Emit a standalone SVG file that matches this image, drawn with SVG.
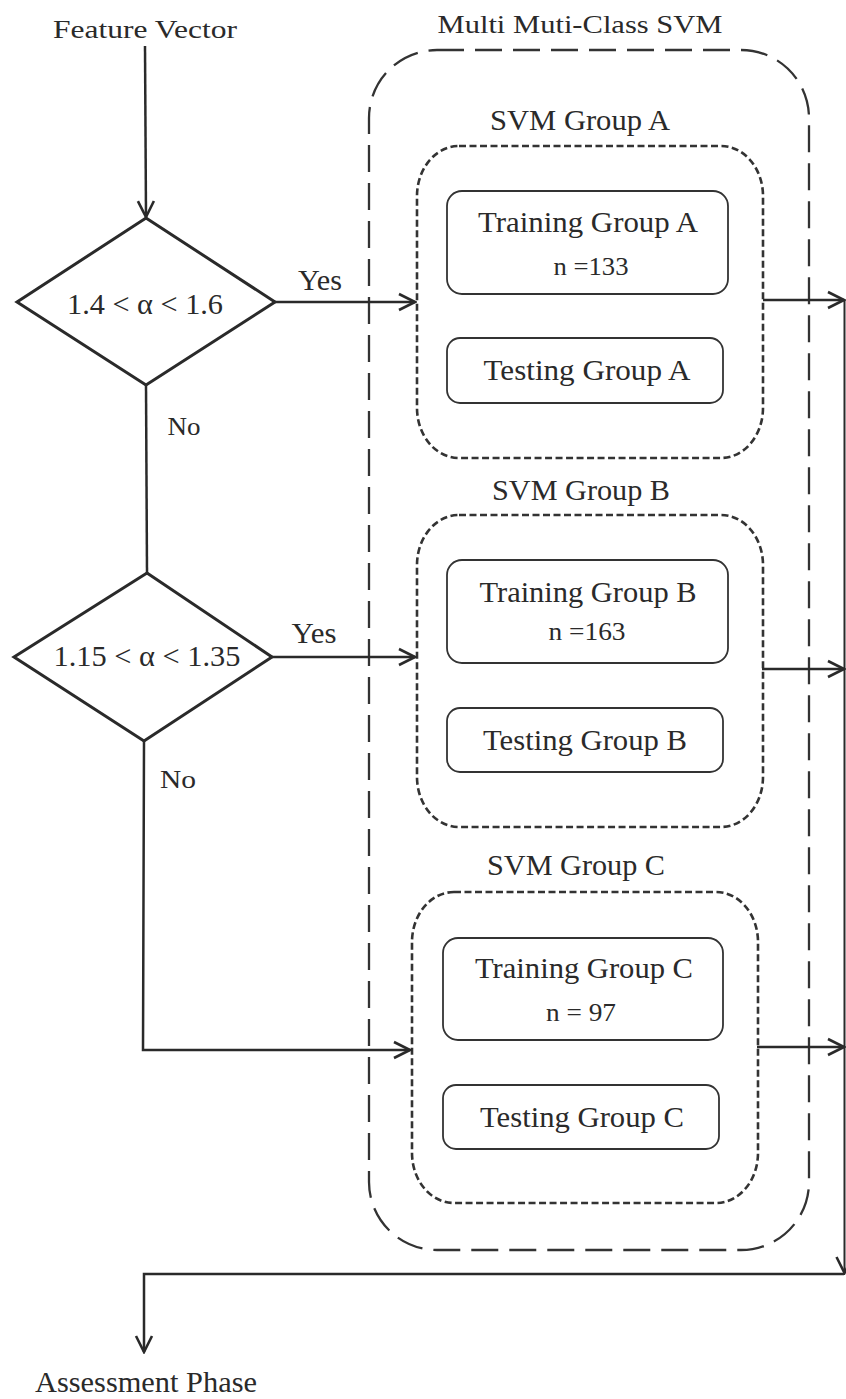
<svg xmlns="http://www.w3.org/2000/svg" width="846" height="1399" viewBox="0 0 846 1399">
<style>
text{font-family:"Liberation Serif","Times New Roman",serif;fill:#2a2a2a;text-anchor:middle}
.t27{font-size:29px}
.t25{font-size:26px}
.line{fill:none;stroke:#2a2a2a;stroke-width:2.5}
.dia{fill:none;stroke:#2a2a2a;stroke-width:3}
.box{fill:none;stroke:#333;stroke-width:1.8}
.grp{fill:none;stroke:#333;stroke-width:2.6;stroke-dasharray:7 3.5}
.outer{fill:none;stroke:#333;stroke-width:2.3;stroke-dasharray:27 11}
</style>
<defs>
<marker id="arr" viewBox="0 0 20 20" refX="18" refY="10" markerWidth="20" markerHeight="20" markerUnits="userSpaceOnUse" orient="auto">
<path d="M2,2 L18,10 L2,18" fill="none" stroke="#2a2a2a" stroke-width="2.6"/>
</marker>
</defs>
<rect width="846" height="1399" fill="#fff"/>

<g id="outer-svm">
<rect class="outer" x="369" y="50" width="440" height="1200" rx="68" ry="68"/>
<text class="t25" x="580" y="33" textLength="285" lengthAdjust="spacingAndGlyphs">Multi Muti-Class SVM</text>
</g>

<g id="feature-vector">
<text class="t25" x="145" y="38" textLength="184" lengthAdjust="spacingAndGlyphs">Feature Vector</text>
</g>

<g id="decision-1">
<polygon class="dia" points="146,218 275,302 146,385 17,302"/>
<text class="t27" x="145" y="314" textLength="156" lengthAdjust="spacingAndGlyphs">1.4 &lt; α &lt; 1.6</text>
</g>

<g id="decision-2">
<polygon class="dia" points="147,573 272,657 144,741 14,657"/>
<text class="t27" x="147" y="666" textLength="187" lengthAdjust="spacingAndGlyphs">1.15 &lt; α &lt; 1.35</text>
</g>

<g id="group-a">
<rect class="grp" x="417" y="146" width="346" height="312" rx="42" ry="50"/>
<text class="t27" x="580" y="130" textLength="180" lengthAdjust="spacingAndGlyphs">SVM Group A</text>
<rect class="box" x="447" y="191" width="281" height="103" rx="15"/>
<text class="t27" x="588" y="232" textLength="220" lengthAdjust="spacingAndGlyphs">Training Group A</text>
<text class="t25" x="591" y="275" textLength="75" lengthAdjust="spacingAndGlyphs">n =133</text>
<rect class="box" x="447" y="338" width="276" height="65" rx="13"/>
<text class="t27" x="587" y="380" textLength="207" lengthAdjust="spacingAndGlyphs">Testing Group A</text>
</g>

<g id="group-b">
<rect class="grp" x="417" y="515" width="346" height="312" rx="42" ry="50"/>
<text class="t27" x="581" y="500" textLength="178" lengthAdjust="spacingAndGlyphs">SVM Group B</text>
<rect class="box" x="447" y="560" width="281" height="103" rx="15"/>
<text class="t27" x="588" y="602" textLength="217" lengthAdjust="spacingAndGlyphs">Training Group B</text>
<text class="t25" x="587" y="640" textLength="77" lengthAdjust="spacingAndGlyphs">n =163</text>
<rect class="box" x="447" y="708" width="276" height="64" rx="13"/>
<text class="t27" x="585" y="750" textLength="204" lengthAdjust="spacingAndGlyphs">Testing Group B</text>
</g>

<g id="group-c">
<rect class="grp" x="412" y="892" width="346" height="311" rx="42" ry="50"/>
<text class="t27" x="576" y="875" textLength="178" lengthAdjust="spacingAndGlyphs">SVM Group C</text>
<rect class="box" x="443" y="938" width="280" height="102" rx="15"/>
<text class="t27" x="584" y="978" textLength="218" lengthAdjust="spacingAndGlyphs">Training Group C</text>
<text class="t25" x="581" y="1021" textLength="70" lengthAdjust="spacingAndGlyphs">n = 97</text>
<rect class="box" x="443" y="1085" width="276" height="64" rx="13"/>
<text class="t27" x="582" y="1127" textLength="204" lengthAdjust="spacingAndGlyphs">Testing Group C</text>
</g>

<g id="assessment">
<text class="t27" x="146" y="1392" textLength="222" lengthAdjust="spacingAndGlyphs">Assessment Phase</text>
</g>

<g id="connectors">
<path class="line" d="M145,46 L146,217" marker-end="url(#arr)"/>
<path class="line" d="M146,385 L147,573"/>
<path class="line" d="M275,302 L415,302" marker-end="url(#arr)"/>
<text class="t27" x="320" y="290" textLength="44" lengthAdjust="spacingAndGlyphs">Yes</text>
<text class="t25" x="184" y="435" textLength="33" lengthAdjust="spacingAndGlyphs">No</text>
<path class="line" d="M272,657 L415,657" marker-end="url(#arr)"/>
<text class="t27" x="314" y="643" textLength="45" lengthAdjust="spacingAndGlyphs">Yes</text>
<path class="line" d="M144,741 L143,1050 L410,1050" marker-end="url(#arr)"/>
<text class="t25" x="178" y="788" textLength="36" lengthAdjust="spacingAndGlyphs">No</text>
<path class="line" d="M763,300 L844,300" marker-end="url(#arr)"/>
<path class="line" d="M762,669 L844,669" marker-end="url(#arr)"/>
<path class="line" d="M757,1047 L844,1047" marker-end="url(#arr)"/>
<path class="line" style="stroke-width:2" d="M844.5,300 L844.5,1273" marker-end="url(#arr)"/>
<path class="line" d="M844,1274 L144,1274 L144,1352" marker-end="url(#arr)"/>
</g>
</svg>
